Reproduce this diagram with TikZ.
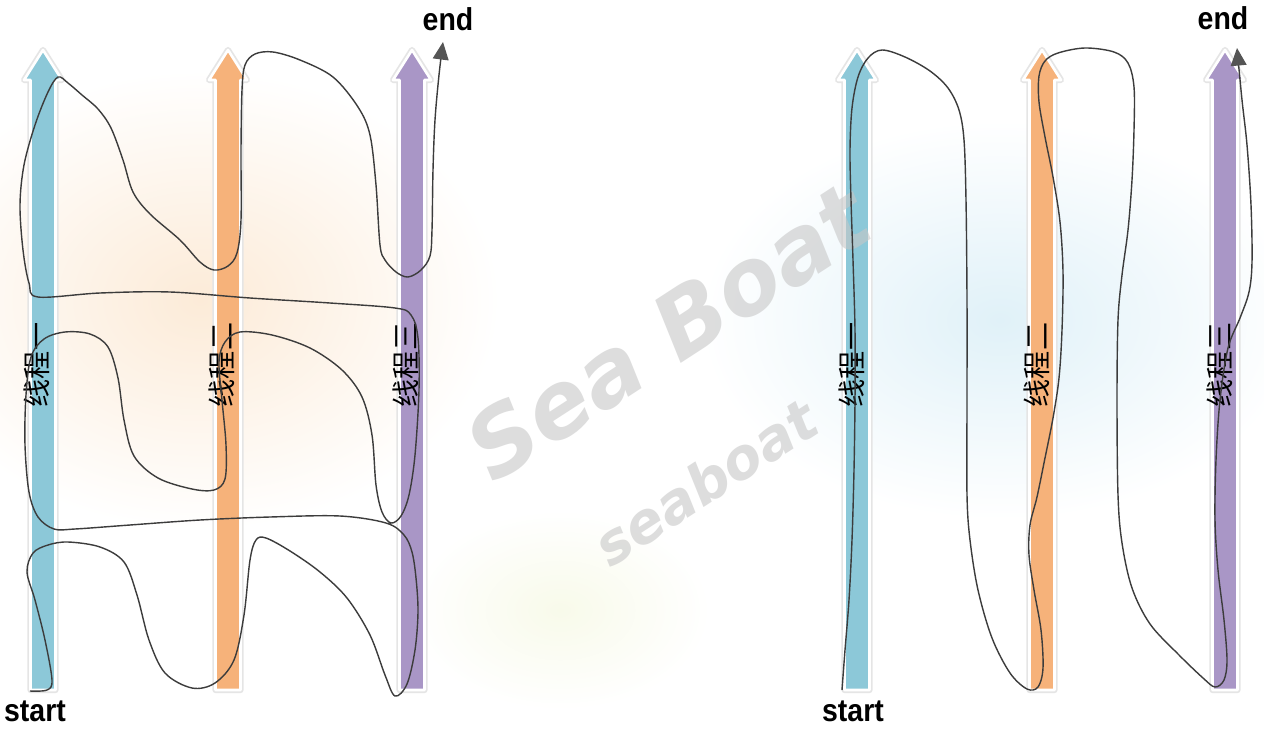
\documentclass[tikz,border=0pt]{standalone}
\usepackage{fontspec}
\usepackage{xcolor}
\usepackage{tikz}
\usetikzlibrary{arrows.meta}
\newfontfamily\cjkfont{Noto Sans CJK SC}
\newfontfamily\markfont{Liberation Sans}
\newfontfamily\wmfont{DejaVu Sans}
\definecolor{ThreadCyan}{HTML}{8CC8D8}
\definecolor{ThreadOrange}{HTML}{F6B27A}
\definecolor{ThreadPurple}{HTML}{A996C6}
\definecolor{PathGray}{HTML}{3C3C3C}
\definecolor{TipGray}{HTML}{555555}
\definecolor{BgPeach}{HTML}{FCEBD8}
\definecolor{BgBlue}{HTML}{E0F1F8}
\definecolor{BgLime}{HTML}{F8FAEA}

\begin{document}
\begin{tikzpicture}[x=0.02cm, y=-0.02cm,
    thread label/.style={font=\cjkfont\fontsize{16}{16}\selectfont, rotate=90, inner sep=0pt},
    mark label/.style={font=\markfont\bfseries\fontsize{18}{18}\selectfont, xscale=0.9, inner sep=0pt},
    water mark/.style={text=black!22, opacity=0.6, inner sep=0pt, rotate=33},
    run path/.style={draw=PathGray, line width=0.8pt, line join=round},
    run end/.style={-{Triangle[length=10pt,width=9pt,color=TipGray]}}]
  \useasboundingbox (0,0) rectangle (1264,744);
  \fill[white] (0,0) rectangle (1264,744);

  % soft background glows
  \shade[inner color=BgPeach, outer color=white] (200,300) ellipse [x radius=6cm, y radius=4.6cm];
  \shade[inner color=BgBlue, outer color=white] (1000,320) ellipse [x radius=6cm, y radius=4cm];
  \shade[inner color=BgLime, outer color=white] (560,610) ellipse [x radius=3cm, y radius=2cm];

  % thread bars
  \foreach \bx/\bc in {43/ThreadCyan,228/ThreadOrange,412/ThreadPurple,857/ThreadCyan,1042/ThreadOrange,1225/ThreadPurple}{
    \draw[black!10, line width=3.5pt, line join=round]
      ({\bx-12.5},690) -- ({\bx-12.5},80) -- ({\bx-19},80) -- (\bx,50) -- ({\bx+19},80) -- ({\bx+12.5},80) -- ({\bx+12.5},690) -- cycle;
    \filldraw[fill=\bc, draw=white, line width=1.5pt, line join=round]
      ({\bx-12.5},690) -- ({\bx-12.5},80) -- ({\bx-19},80) -- (\bx,50) -- ({\bx+19},80) -- ({\bx+12.5},80) -- ({\bx+12.5},690) -- cycle;
  }

  \node[thread label] (t1) at (37,365) {线程一};
  \node[thread label] (t2) at (222,365) {线程二};
  \node[thread label] (t3) at (406,365) {线程三};
  \node[thread label] (u1) at (852,365) {线程一};
  \node[thread label] (u2) at (1037,365) {线程二};
  \node[thread label] (u3) at (1220,365) {线程三};

  % watermark
  \node[water mark, font=\wmfont\bfseries\itshape\fontsize{52}{52}\selectfont] (wm1) at (668,332) {Sea Boat};
  \node[water mark, font=\wmfont\bfseries\itshape\fontsize{32}{32}\selectfont] (wm2) at (705,482) {seaboat};

  % left: interleaved run
  \coordinate (s1) at (30,691);
  \coordinate (e1) at (443,42);
  \draw[run path, run end] plot[smooth, tension=0.55] coordinates {(s1)
    (47,690) (52,680) (45,640) (35,600) (27,572) (33,553) (48,545) (68,542) (100,547) (124,562)
    (137,595) (149,640) (165,673) (192,688) (215,683) (234,660) (244,615) (250,560) (256,540) (266,538)
    (290,551) (320,572) (347,598) (370,635) (385,675) (395,696) (407,684) (415,650) (418,612) (416,578)
    (412,552) (404,535) (386,523) (340,516) (270,517) (200,520) (130,525) (75,529) (54,529) (38,517)
    (29,492) (25,445) (26,395) (31,357) (44,339) (65,332) (90,334) (108,347) (118,378) (124,420)
    (134,456) (158,478) (192,489) (214,490) (225,479) (226,445) (222,400) (219,362) (225,342) (240,332)
    (272,335) (310,348) (342,370) (362,397) (372,435) (376,485) (382,512) (391,523) (401,516) (409,495)
    (415,455) (419,390) (418,338) (411,315) (395,308) (330,303) (250,298) (170,292) (100,293) (38,297)
    (29,283) (23,250) (20,205) (24,165) (35,125) (48,92) (58,77) (68,83) (82,95) (98,109)
    (111,128) (123,160) (133,192) (150,214) (180,240) (200,262) (214,270) (228,266) (237,253) (241,220)
    (241,150) (242,90) (245,65) (255,54) (273,52) (300,60) (333,77) (358,107) (370,135) (376,185)
    (380,245) (385,260) (396,272) (408,277) (421,270) (430,256) (432,230) (433,170) (435,120) (439,75)
    (e1)};

  % right: one thread after another
  \coordinate (s2) at (842,690);
  \coordinate (e2) at (1237,48);
  \draw[run path, run end] plot[smooth, tension=0.55] coordinates {(s2)
    (845,650) (849,600) (852,540) (854,470) (855,400) (855,330) (853,260) (851,200) (850,150) (852,108)
    (858,77) (868,58) (882,50) (905,57) (930,71) (948,88) (959,110) (964,140) (966,200) (967,300)
    (967,400) (967,495) (970,540) (978,590) (992,638) (1010,673) (1027,689) (1038,687) (1043,668) (1041,630)
    (1034,590) (1029,555) (1030,525) (1037,497) (1045,458) (1053,418) (1059,378) (1062,330) (1063,272) (1060,222)
    (1053,177) (1045,137) (1039,102) (1039,76) (1045,61) (1058,53) (1085,48) (1114,52) (1128,63) (1134,87)
    (1134,130) (1132,180) (1128,230) (1122,275) (1118,320) (1117,400) (1118,495) (1122,543) (1132,588) (1150,624)
    (1178,654) (1203,678) (1215,687) (1224,680) (1227,660) (1224,620) (1218,570) (1215,520) (1216,460) (1220,400)
    (1228,348) (1240,318) (1249,292) (1252,262) (1251,205) (1247,145) (1242,100)
    (e2)};

  \node[mark label] (start1) at (35,711) {start};
  \node[mark label] (end1) at (448,19) {end};
  \node[mark label] (start2) at (853,711) {start};
  \node[mark label] (end2) at (1223,18) {end};
\end{tikzpicture}
\end{document}
